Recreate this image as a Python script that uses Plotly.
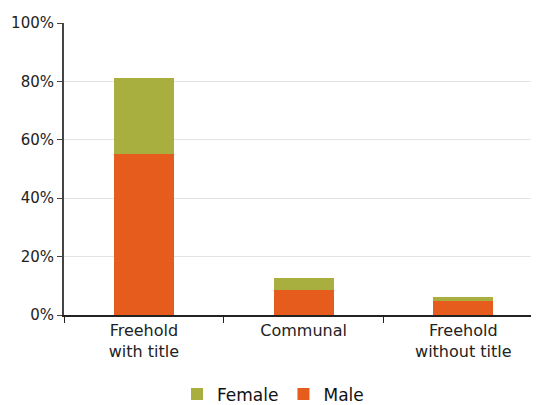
import plotly.graph_objects as go

categories = ["Freehold<br>with title", "Communal", "Freehold<br>without title"]
male = [55.1, 8.6, 4.9]
female = [26.1, 4.1, 1.1]
y_ticks = [0, 20, 40, 60, 80, 100]
y_tick_labels = ["0%", "20%", "40%", "60%", "80%", "100%"]

fig = go.Figure()
fig.add_trace(go.Bar(name="Male", x=categories, y=male, marker_color="#E65C1C",
                     marker_line_width=0))
fig.add_trace(go.Bar(name="Female", x=categories, y=female, marker_color="#A8AF3F",
                     marker_line_width=0))

# page body has an 8px default margin, so the figure is sized/offset to compensate
fig.update_layout(
    width=531, height=397,
    barmode="stack",
    bargap=0.625,
    plot_bgcolor="white", paper_bgcolor="white",
    margin=dict(l=56, r=0, t=15, b=90, autoexpand=False),
    font=dict(family="DejaVu Sans, sans-serif", size=16, color="#222"),
    legend=dict(orientation="h", x=0.44, xanchor="center", y=-0.272, yanchor="middle",
                traceorder="reversed", font=dict(size=17, color="#111"),
                itemwidth=30),
    showlegend=True,
)
fig.update_xaxes(range=[-0.5, 2.474], showline=True, linecolor="#222", linewidth=1.5,
                 ticks="outside", tickson="boundaries", ticklen=6, tickcolor="#222",
                 showgrid=False, automargin=False, tickfont=dict(size=16))
fig.update_yaxes(range=[0, 100], tickvals=y_ticks, ticktext=y_tick_labels,
                 showline=True, linecolor="#444", linewidth=2, ticks="outside",
                 ticklen=5, tickcolor="#444", gridcolor="#E3E3E3", gridwidth=1,
                 zeroline=False, automargin=False, tickfont=dict(size=15))

fig.write_html("out.html")
